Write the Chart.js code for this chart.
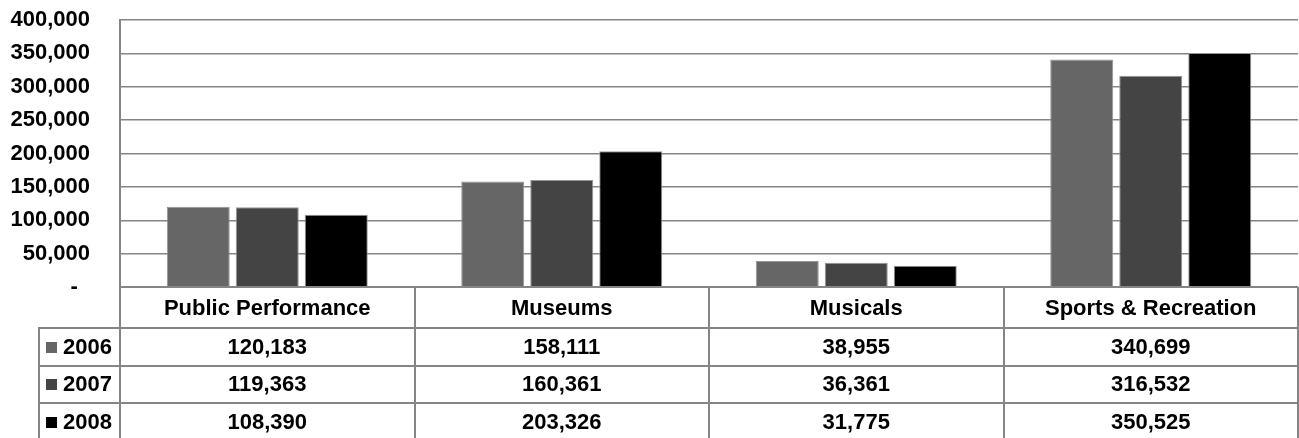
<!DOCTYPE html>
<html>
<head>
<meta charset="utf-8">
<script src="https://cdn.jsdelivr.net/npm/chart.js"></script>
<style>
  body { margin: 0; background: #fff; }
  #wrap { width: 1299px; height: 438px; position: relative; }
</style>
</head>
<body>
<div id="wrap"><canvas id="chart"></canvas></div>
<script>
// categories and series
const categories = ['Public Performance', 'Museums', 'Musicals', 'Sports & Recreation'];
const years = ['2006', '2007', '2008'];
const values2006 = [120183, 158111, 38955, 340699];
const values2007 = [119363, 160361, 36361, 316532];
const values2008 = [108390, 203326, 31775, 350525];
const seriesColors = ['#666666', '#444444', '#000000'];

const FONT = 'bold 22px "Liberation Sans", Arial, sans-serif';
const LINE = '#858585';

function fmt(v) {
  return v.toLocaleString('en-US');
}

// data table drawn under the plot, columns taken from the x scale
const dataTablePlugin = {
  id: 'dataTable',
  afterDraw(chart) {
    const ctx = chart.ctx;
    const x = chart.scales.x;
    const area = chart.chartArea;
    const colW = x.width / categories.length;
    const headerBottom = area.bottom + 41;
    const rowH = 37.5;
    const legendLeft = 39;
    const tableBottom = chart.height + 2;
    const rows = [values2006, values2007, values2008];

    ctx.save();
    ctx.strokeStyle = LINE;
    ctx.lineWidth = 2;

    // axis line under the bars
    ctx.beginPath();
    ctx.moveTo(x.left, Math.round(area.bottom));
    ctx.lineTo(x.right, Math.round(area.bottom));
    ctx.stroke();

    // vertical lines
    for (let i = 0; i <= categories.length; i++) {
      const px = Math.round(x.left + i * colW);
      ctx.beginPath();
      ctx.moveTo(px, area.bottom);
      ctx.lineTo(px, tableBottom);
      ctx.stroke();
    }
    ctx.beginPath();
    ctx.moveTo(legendLeft, headerBottom);
    ctx.lineTo(legendLeft, tableBottom);
    ctx.stroke();

    // horizontal lines
    for (let r = 0; r < rows.length; r++) {
      const py = Math.round(headerBottom + r * rowH);
      ctx.beginPath();
      ctx.moveTo(legendLeft - 1, py);
      ctx.lineTo(x.right, py);
      ctx.stroke();
    }

    ctx.font = FONT;
    ctx.fillStyle = '#000';
    ctx.textBaseline = 'middle';
    ctx.textAlign = 'center';

    // header labels
    categories.forEach((c, i) => {
      ctx.fillText(c, x.left + (i + 0.5) * colW, (area.bottom + headerBottom) / 2 + 1);
    });

    // rows
    rows.forEach((vals, r) => {
      const cy = headerBottom + r * rowH + rowH / 2 + 1;
      ctx.fillStyle = seriesColors[r];
      ctx.fillRect(46, Math.round(cy - 6), 11, 11);
      ctx.fillStyle = '#000';
      ctx.textAlign = 'right';
      ctx.fillText(years[r], x.left - 8, cy);
      ctx.textAlign = 'center';
      vals.forEach((v, i) => {
        ctx.fillText(fmt(v), x.left + (i + 0.5) * colW, cy);
      });
    });
    ctx.restore();
  }
};

new Chart(document.getElementById('chart').getContext('2d'), {
  type: 'bar',
  data: {
    labels: categories,
    datasets: [values2006, values2007, values2008].map((vals, i) => ({
      label: years[i],
      data: vals,
      backgroundColor: seriesColors[i],
      borderColor: '#959595',
      borderWidth: 1,
      categoryPercentage: 0.703,
      barPercentage: 0.913
    }))
  },
  options: {
    responsive: true,
    maintainAspectRatio: false,
    animation: false,
    layout: { padding: { top: 20, right: 1, bottom: 151, left: 0 } },
    plugins: {
      legend: { display: false },
      tooltip: { enabled: false }
    },
    scales: {
      x: { display: false },
      y: {
        min: 0,
        max: 400000,
        afterFit(scale) {
          scale.width = 120;
          scale.paddingTop = 0;
          scale.paddingBottom = 0;
        },
        border: { display: true, color: LINE, width: 2 },
        grid: { color: LINE, lineWidth: 1.5, drawTicks: false },
        ticks: {
          stepSize: 50000,
          padding: 30,
          color: '#000',
          font: { family: '"Liberation Sans", Arial, sans-serif', size: 22, weight: 'bold' },
          callback: v => v === 0 ? '-  ' : fmt(v)
        }
      }
    }
  },
  plugins: [dataTablePlugin]
});
</script>
</body>
</html>
